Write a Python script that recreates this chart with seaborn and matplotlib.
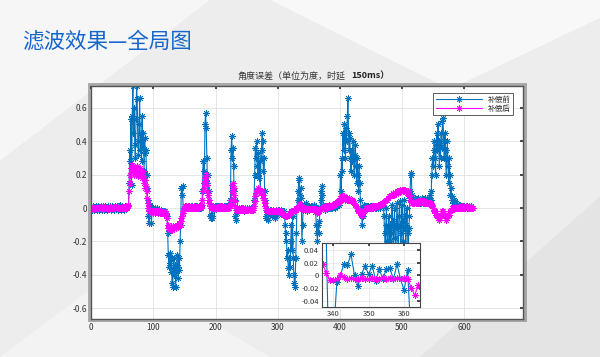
import matplotlib
matplotlib.use("Agg")
import matplotlib.pyplot as plt
import seaborn as sns
import numpy as np
from matplotlib.patches import Polygon, Rectangle
from matplotlib.ticker import FuncFormatter

# angle error before compensation (one value per sample, x = 0..614)
before = [
    0.00, -0.01, 0.00, 0.01, 0.00, -0.01, 0.00, 0.00, 0.01, -0.01,
    0.00, 0.01, -0.01, 0.00, 0.00, 0.01, 0.00, -0.01, 0.00, 0.01,
    0.00, -0.01, 0.00, 0.01, 0.00, 0.00, -0.01, 0.01, 0.00, 0.00,
    0.01, 0.00, -0.01, 0.00, 0.01, 0.00, 0.00, -0.01, 0.00, 0.01,
    0.00, 0.01, 0.00, -0.01, 0.00, 0.01, 0.02, 0.00, -0.01, 0.00,
    0.01, 0.00, 0.00, -0.01, 0.01, 0.00, 0.01, 0.00, 0.00, 0.01,
    0.02, 0.15, 0.35, 0.28, 0.53, 0.14, 0.55, 0.73, 0.45, 0.60,   # 60
    0.38, 0.30, 0.53, 0.73, 0.65, 0.40, 0.32, 0.50, 0.66, 0.35,
    0.45, 0.28, 0.55, 0.36, 0.45, 0.22, 0.42, 0.33, 0.35, 0.20,
    0.12, 0.05, -0.05, -0.09, 0.02, 0.01, -0.02, -0.09, 0.00, -0.01,
    -0.02, -0.01, 0.00, -0.02, -0.01, -0.02, 0.00, -0.01, -0.02, -0.01,   # 100
    -0.02, -0.02, -0.01, -0.03, -0.02, -0.02, -0.03, -0.02, -0.03, -0.02,
    -0.03, -0.03, -0.05, -0.15, -0.28, -0.35, -0.27, -0.33, -0.38, -0.30,
    -0.45, -0.47, -0.36, -0.30, -0.40, -0.34, -0.47, -0.38, -0.28, -0.35,
    -0.42, -0.30, -0.37, -0.20, -0.10, 0.12, 0.08, 0.13, -0.02, 0.00,
    0.00, 0.01, 0.00, 0.01, 0.00, 0.01, 0.00, 0.01, 0.00, 0.00,   # 150
    0.01, 0.00, 0.01, 0.00, 0.00, 0.01, 0.00, 0.01, 0.00, 0.01,
    0.00, 0.01, 0.00, 0.00, 0.01, 0.00, 0.01, 0.00, 0.02, 0.10,
    0.28, 0.22, 0.15, 0.50, 0.57, 0.48, 0.30, 0.15, 0.20, 0.10,
    0.05, -0.05, -0.06, -0.04, -0.06, -0.05, 0.00, -0.01, 0.00, 0.01,
    0.00, 0.01, 0.00, 0.00, 0.01, 0.00, 0.01, 0.00, 0.00, 0.01,   # 200
    0.00, 0.01, 0.00, 0.00, 0.01, 0.00, 0.00, 0.01, 0.00, 0.01,
    0.00, 0.00, 0.01, 0.02, 0.05, 0.35, 0.43, 0.30, 0.36, 0.25,
    0.10, 0.05, -0.05, -0.07, -0.03, 0.00, -0.01, -0.01, 0.00, -0.01,
    -0.01, 0.00, -0.01, -0.01, 0.00, -0.01, -0.02, -0.01, 0.00, -0.01,
    -0.01, 0.00, -0.01, -0.01, 0.00, -0.01, -0.01, 0.00, -0.01, 0.00,   # 250
    -0.01, 0.00, 0.05, 0.20, 0.36, 0.30, 0.40, 0.25, 0.20, 0.33,
    0.18, 0.28, 0.10, 0.30, 0.35, 0.45, 0.40, 0.22, 0.30, 0.10,
    0.05, -0.05, -0.06, -0.02, -0.01, -0.07, -0.02, -0.01, -0.04, -0.02,
    -0.01, -0.05, -0.02, -0.01, -0.03, -0.06, -0.02, -0.01, -0.02, -0.04,
    -0.01, -0.02, -0.01, -0.03, -0.02, -0.01, -0.03, -0.02, -0.04, -0.03,   # 300
    -0.02, -0.05, -0.10, -0.20, -0.15, -0.30, -0.25, -0.36, -0.40, -0.30,
    -0.35, -0.20, -0.10, -0.25, -0.05, -0.30, -0.40, -0.45, -0.47, -0.30,
    -0.15, 0.00, 0.05, 0.10, 0.18, 0.17, 0.08, 0.12, 0.06, -0.20,
    -0.10, -0.011, 0.000, 0.018, 0.016, 0.033, 0.000, -0.016, 0.003, 0.014,
    0.002, 0.015, -0.008, 0.010, -0.006, 0.010, 0.011, -0.006, 0.018, -0.006,   # 350
    -0.023, 0.008, -0.10, -0.15, -0.20, -0.10, -0.15, -0.08, 0.00, 0.05,
    0.10, 0.13, 0.08, 0.02, 0.00, 0.01, -0.01, 0.00, 0.01, 0.00,
    0.01, 0.00, 0.01, 0.02, 0.00, 0.01, 0.00, 0.01, 0.00, 0.01,
    0.02, 0.01, 0.00, 0.02, 0.01, 0.02, 0.01, 0.03, 0.02, 0.02,
    0.05, 0.20, 0.10, 0.30, 0.22, 0.45, 0.35, 0.50, 0.40, 0.30,   # 400
    0.48, 0.40, 0.55, 0.66, 0.45, 0.35, 0.42, 0.30, 0.22, 0.35,
    0.28, 0.40, 0.30, 0.20, 0.32, 0.38, 0.25, 0.15, 0.30, 0.20,
    0.10, 0.25, 0.15, 0.05, 0.00, -0.05, -0.10, -0.05, 0.00, 0.02,
    0.00, 0.01, 0.00, 0.01, 0.00, 0.00, 0.01, 0.00, 0.01, 0.00,
    0.01, 0.00, 0.00, 0.01, 0.00, 0.01, 0.00, 0.01, 0.00, 0.01,   # 450
    0.01, 0.00, 0.01, 0.02, 0.01, 0.00, 0.02, 0.01, 0.02, 0.01,
    0.02, -0.05, -0.15, -0.25, -0.10, 0.00, -0.20, -0.30, -0.12, -0.05,
    -0.20, -0.10, -0.30, -0.15, 0.02, -0.08, -0.25, -0.12, 0.00, -0.18,
    -0.30, -0.10, 0.03, -0.12, -0.22, -0.05, 0.04, -0.10, -0.30, -0.15,
    0.02, -0.08, -0.20, -0.12, 0.05, -0.05, -0.25, -0.10, 0.00, -0.15,   # 500
    -0.30, -0.12, -0.05, 0.10, 0.20, 0.21, 0.08, 0.05, 0.04, 0.05,
    0.04, 0.06, 0.04, 0.05, 0.03, 0.06, 0.04, 0.05, 0.04, 0.03,
    0.05, 0.04, 0.06, 0.04, 0.03, 0.05, 0.04, 0.06, 0.05, 0.04,
    0.05, 0.03, 0.05, 0.04, 0.06, 0.08, 0.05, 0.10, 0.20, 0.30,
    0.25, 0.35, 0.40, 0.30, 0.20, 0.38, 0.45, 0.35, 0.50, 0.40,   # 550
    0.25, 0.38, 0.30, 0.45, 0.36, 0.52, 0.54, 0.40, 0.30, 0.45,
    0.35, 0.20, 0.30, 0.40, 0.25, 0.15, 0.30, 0.20, 0.08, 0.12,
    0.05, 0.07, 0.03, 0.05, 0.02, 0.04, 0.02, 0.03, 0.01, 0.02,
    0.01, 0.02, 0.00, 0.01, 0.02, 0.00, 0.01, 0.00, 0.01, 0.00,
    0.01, 0.00, 0.00, 0.01, 0.00, 0.01, 0.00, 0.00, 0.01, 0.00,   # 600
    0.00, 0.01, 0.00, 0.00, 0.00,
]

# angle error after compensation
after = [
    0.000, 0.003, 0.000, 0.005, 0.000, -0.003, 0.000, 0.003, 0.000, 0.005,
    0.000, 0.003, 0.000, 0.000, 0.005, 0.000, -0.003, 0.000, 0.003, 0.000,
    0.005, 0.000, 0.000, 0.003, 0.000, 0.005, 0.000, -0.003, 0.000, 0.003,
    0.000, 0.005, 0.000, 0.000, 0.003, 0.000, 0.005, 0.000, 0.003, 0.000,
    0.005, 0.000, 0.003, 0.000, 0.000, 0.005, 0.003, 0.000, 0.003, 0.005,
    0.000, 0.003, 0.005, 0.000, 0.003, 0.005, 0.003, 0.005, 0.008, 0.010,
    0.02, 0.10, 0.15, 0.20, 0.24, 0.26, 0.23, 0.25, 0.22, 0.20,   # 60
    0.23, 0.21, 0.24, 0.25, 0.22, 0.20, 0.19, 0.22, 0.24, 0.21,
    0.20, 0.18, 0.20, 0.22, 0.19, 0.15, 0.17, 0.12, 0.13, 0.10,
    0.06, 0.03, 0.00, -0.02, -0.02, -0.02, -0.03, -0.02, -0.02, -0.03,
    -0.02, -0.02, -0.02, -0.03, -0.02, -0.02, -0.02, -0.03, -0.02, -0.02,   # 100
    -0.02, -0.03, -0.02, -0.02, -0.03, -0.02, -0.03, -0.03, -0.02, -0.03,
    -0.03, -0.04, -0.06, -0.10, -0.12, -0.13, -0.12, -0.12, -0.11, -0.12,
    -0.13, -0.12, -0.11, -0.12, -0.12, -0.11, -0.12, -0.11, -0.10, -0.11,
    -0.10, -0.11, -0.09, -0.10, -0.08, -0.06, -0.05, -0.03, -0.02, 0.00,
    0.00, 0.00, 0.01, 0.00, 0.00, 0.00, 0.01, 0.00, 0.00, 0.00,   # 150
    0.00, 0.01, 0.00, 0.00, 0.00, 0.00, 0.01, 0.00, 0.00, 0.00,
    0.01, 0.00, 0.00, 0.00, 0.00, 0.01, 0.00, 0.00, 0.02, 0.05,
    0.10, 0.12, 0.15, 0.18, 0.20, 0.17, 0.14, 0.10, 0.08, 0.05,
    0.03, 0.01, 0.00, 0.00, 0.00, 0.00, 0.01, 0.00, 0.00, 0.00,
    0.00, 0.00, 0.01, 0.00, 0.00, 0.00, 0.00, 0.01, 0.00, 0.00,   # 200
    0.00, 0.01, 0.00, 0.00, 0.00, 0.00, 0.01, 0.00, 0.00, 0.00,
    0.00, 0.00, 0.01, 0.01, 0.02, 0.05, 0.10, 0.14, 0.15, 0.12,
    0.08, 0.04, 0.01, -0.01, -0.01, -0.01, -0.01, -0.01, -0.01, -0.01,
    -0.01, -0.01, -0.01, 0.00, -0.01, -0.01, -0.01, -0.01, 0.00, -0.01,
    -0.01, -0.01, -0.01, -0.01, 0.00, -0.01, -0.01, -0.01, -0.01, -0.01,   # 250
    -0.01, 0.00, 0.01, 0.04, 0.07, 0.09, 0.10, 0.11, 0.12, 0.11,
    0.10, 0.11, 0.10, 0.09, 0.10, 0.09, 0.08, 0.06, 0.05, 0.03,
    0.01, 0.00, -0.01, -0.01, -0.02, -0.02, -0.02, -0.02, -0.02, -0.02,
    -0.02, -0.02, -0.01, -0.02, -0.02, -0.02, -0.02, -0.01, -0.02, -0.02,
    -0.02, -0.02, -0.02, -0.02, -0.02, -0.02, -0.03, -0.03, -0.03, -0.03,   # 300
    -0.04, -0.04, -0.05, -0.05, -0.05, -0.05, -0.04, -0.04, -0.04, -0.03,
    -0.03, -0.03, -0.02, -0.02, -0.02, -0.02, -0.01, -0.01, -0.01, -0.01,
    0.00, 0.00, 0.00, 0.005, 0.01, 0.02, 0.025, 0.018, 0.004, -0.007,
    -0.007, -0.006, 0.000, -0.003, -0.005, -0.004, -0.006, -0.005, -0.004, -0.006,
    -0.005, -0.004, -0.006, -0.005, -0.003, -0.005, -0.004, -0.006, -0.004, -0.005,   # 350
    -0.004, -0.005, -0.019, -0.031, -0.015, -0.022, -0.015, -0.008, -0.003, 0.00,
    0.00, 0.00, 0.00, 0.01, 0.00, 0.00, 0.00, 0.01, 0.00, 0.00,
    0.00, 0.01, 0.00, 0.01, 0.01, 0.01, 0.01, 0.02, 0.01, 0.02,
    0.02, 0.02, 0.03, 0.02, 0.03, 0.03, 0.03, 0.04, 0.03, 0.04,
    0.05, 0.06, 0.06, 0.07, 0.06, 0.06, 0.07, 0.06, 0.05, 0.06,   # 400
    0.06, 0.05, 0.06, 0.05, 0.05, 0.06, 0.05, 0.05, 0.04, 0.05,
    0.04, 0.04, 0.03, 0.03, 0.02, 0.02, 0.01, 0.00, 0.00, -0.01,
    -0.02, -0.02, -0.03, -0.03, -0.04, -0.04, -0.03, -0.03, -0.02, -0.02,
    -0.01, -0.01, 0.00, 0.00, 0.00, 0.00, 0.00, 0.00, 0.00, 0.00,
    0.00, 0.00, 0.01, 0.00, 0.01, 0.01, 0.00, 0.01, 0.01, 0.01,   # 450
    0.01, 0.01, 0.02, 0.01, 0.02, 0.02, 0.02, 0.02, 0.03, 0.02,
    0.03, 0.03, 0.04, 0.04, 0.05, 0.05, 0.05, 0.06, 0.06, 0.07,
    0.07, 0.07, 0.08, 0.08, 0.08, 0.08, 0.09, 0.08, 0.09, 0.09,
    0.09, 0.09, 0.10, 0.09, 0.10, 0.10, 0.10, 0.11, 0.10, 0.10,
    0.11, 0.10, 0.11, 0.11, 0.10, 0.11, 0.10, 0.10, 0.09, 0.10,   # 500
    0.09, 0.08, 0.07, 0.05, 0.04, 0.04, 0.03, 0.03, 0.03, 0.03,
    0.03, 0.04, 0.03, 0.03, 0.03, 0.04, 0.03, 0.03, 0.03, 0.04,
    0.03, 0.03, 0.04, 0.03, 0.03, 0.03, 0.04, 0.03, 0.03, 0.03,
    0.03, 0.03, 0.03, 0.03, 0.03, 0.03, 0.03, 0.02, 0.02, 0.01,
    0.00, -0.01, -0.02, -0.02, -0.03, -0.04, -0.04, -0.05, -0.06, -0.06,   # 550
    -0.07, -0.06, -0.05, -0.04, -0.03, -0.02, -0.02, -0.03, -0.04, -0.05,
    -0.06, -0.07, -0.06, -0.05, -0.05, -0.04, -0.03, -0.02, -0.02, -0.01,
    -0.01, 0.00, 0.00, 0.00, 0.00, 0.00, 0.01, 0.00, 0.00, 0.00,
    0.00, 0.00, 0.01, 0.00, 0.00, 0.00, 0.00, 0.01, 0.00, 0.00,
    0.00, 0.00, 0.00, 0.01, 0.00, 0.00, 0.00, 0.00, 0.01, 0.00,   # 600
    0.00, 0.00, 0.00, 0.00, 0.00,
]

labels = ["补偿前", "补偿后"]
slide_title = "滤波效果—全局图"
plot_title = "角度误差（单位为度，时延"
plot_title_delay = "150ms）"
x_ticks = [0, 100, 200, 300, 400, 500, 600]
y_ticks = [-0.6, -0.4, -0.2, 0, 0.2, 0.4, 0.6]
inset_xticks = [340, 350, 360]
inset_yticks = [-0.04, -0.02, 0, 0.02, 0.04]

sns.set_theme(style="whitegrid")
plt.rcParams["font.family"] = ["Noto Sans CJK SC", "DejaVu Sans"]
plt.rcParams["axes.unicode_minus"] = False

blue = "#0072BD"
pink = "#FF00FF"
star = (8, 2, 0)  # MATLAB-like asterisk marker

fig = plt.figure(figsize=(6, 3.57), dpi=100)
fig.patch.set_facecolor("#ededed")

# faint slide background shapes
for pts, c in [
    ([(0, 0.55), (0.35, 1), (0, 1)], "#f6f6f6"),
    ([(0.45, 1), (0.75, 0.75), (1, 0.95), (1, 1)], "#f8f8f8"),
    ([(0.7, 0), (1, 0.45), (1, 0)], "#e4e4e4"),
    ([(0, 0), (0.2, 0.25), (0.45, 0)], "#f3f3f3"),
]:
    fig.patches.append(Polygon(pts, closed=True, transform=fig.transFigure,
                               facecolor=c, edgecolor="none", zorder=0))

# shadow around the plot area
fig.patches.append(Rectangle((0.146, 0.097), 0.732, 0.670, transform=fig.transFigure,
                             facecolor="#8c8c8c", edgecolor="none", alpha=0.7, zorder=0))

fig.text(0.037, 0.868, slide_title, fontsize=15.5, color="#1565d0", ha="left", va="baseline")
fig.text(0.575, 0.78, plot_title, fontsize=6.5, color="#333333", ha="right", va="baseline")
fig.text(0.585, 0.78, plot_title_delay, fontsize=6.5, color="#222222", ha="left",
         va="baseline", fontweight="bold")

xs_b = np.arange(len(before))
xs_a = np.arange(len(after))

ax = fig.add_axes([0.152, 0.106, 0.72, 0.653])
ax.set_zorder(2)
ax.set_facecolor("white")
sns.lineplot(x=xs_b, y=before, ax=ax, color=blue, linewidth=0.8, marker=star,
             markersize=4.5, markeredgewidth=0.6, markeredgecolor=blue, label=labels[0])
sns.lineplot(x=xs_a, y=after, ax=ax, color=pink, linewidth=0.8, marker=star,
             markersize=4.5, markeredgewidth=0.6, markeredgecolor=pink, label=labels[1])
ax.set_xlim(0, 695)
ax.set_ylim(-0.665, 0.73)
ax.set_xticks(x_ticks)
ax.set_yticks(y_ticks)
fmt = FuncFormatter(lambda v, p: f"{v:g}")
ax.xaxis.set_major_formatter(fmt)
ax.yaxis.set_major_formatter(fmt)
ax.tick_params(direction="in", length=2.5, labelsize=6, colors="#333333",
               top=True, right=True, pad=3)
ax.grid(True, color="#e2e2e2", linewidth=0.6)
for s in ax.spines.values():
    s.set_color("#555555")
    s.set_linewidth(1.0)
leg = ax.legend(loc="upper right", fontsize=5.5, handlelength=6, frameon=True,
                fancybox=False, borderpad=0.3, labelspacing=0.15,
                bbox_to_anchor=(0.985, 0.985))
leg.get_frame().set_edgecolor("#444444")
leg.get_frame().set_linewidth(0.6)
leg.get_frame().set_facecolor("white")
leg.get_frame().set_alpha(1)

axi = fig.add_axes([0.536, 0.139, 0.164, 0.179])
axi.set_zorder(3)
axi.set_facecolor("white")
sns.lineplot(x=xs_b, y=before, ax=axi, color=blue, linewidth=0.8, marker=star,
             markersize=4.5, markeredgewidth=0.6, markeredgecolor=blue, legend=False)
sns.lineplot(x=xs_a, y=after, ax=axi, color=pink, linewidth=0.8, marker=star,
             markersize=4.5, markeredgewidth=0.6, markeredgecolor=pink, legend=False)
axi.set_xlim(336.7, 364.5)
axi.set_ylim(-0.05, 0.05)
axi.set_xticks(inset_xticks)
axi.set_yticks(inset_yticks)
axi.xaxis.set_major_formatter(fmt)
axi.yaxis.set_major_formatter(fmt)
axi.tick_params(direction="in", length=2, labelsize=5.5, colors="#333333",
                top=True, right=True, pad=2)
axi.grid(True, color="#e2e2e2", linewidth=0.5)
for s in axi.spines.values():
    s.set_color("#444444")
    s.set_linewidth(0.8)

fig.savefig("out.png", dpi=100, facecolor=fig.get_facecolor())
